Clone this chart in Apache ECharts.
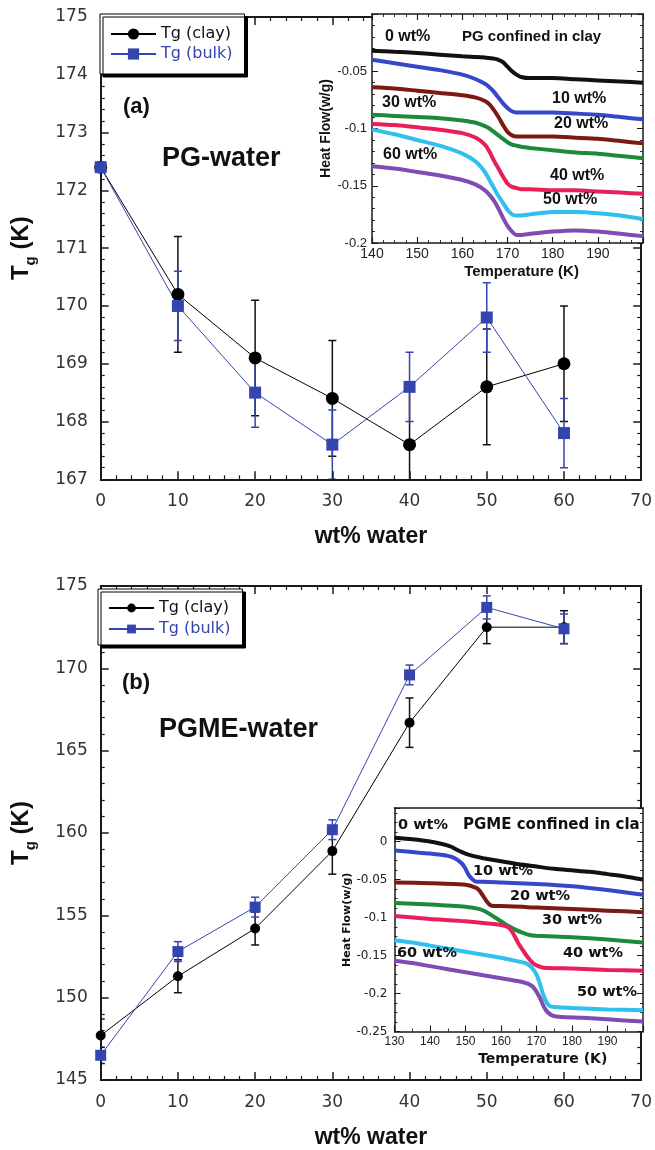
<!DOCTYPE html>
<html>
<head>
<meta charset="utf-8">
<script src="https://cdn.jsdelivr.net/npm/echarts@6/dist/echarts.min.js"></script>
<style>
  html, body { margin: 0; padding: 0; background: #fff; }
  #chart { width: 655px; height: 1150px; }
</style>
</head>
<body>
<div id="chart"></div>
<script>
// wt% water, shared by both panels
var waterPct = [0, 10, 20, 30, 40, 50, 60];

// (a) PG-water
var pgClay = [172.4, 170.2, 169.1, 168.4, 167.6, 168.6, 169.0];
var pgClayErr = [0, 1.0, 1.0, 1.0, 1.0, 1.0, 1.0];
var pgBulk = [172.4, 170.0, 168.5, 167.6, 168.6, 169.8, 167.8];
var pgBulkErr = [0, 0.6, 0.6, 0.6, 0.6, 0.6, 0.6];

// (b) PGME-water
var pgmeClay = [147.7, 151.3, 154.2, 158.9, 166.7, 172.5, 172.5];
var pgmeClayErr = [1.0, 1.0, 1.0, 1.4, 1.5, 1.0, 1.0];
var pgmeBulk = [146.5, 152.8, 155.5, 160.2, 169.6, 173.7, 172.4];
var pgmeBulkErr = [0.5, 0.6, 0.6, 0.6, 0.6, 0.7, 0.9];

// inset (a): DSC heat flow, PG confined in clay
var pgDscTemp = [140, 145, 150, 155, 160, 163, 165, 166, 167, 168, 169, 170, 171, 172, 173, 175, 180, 185, 190, 195, 200];
var pgDsc0 = [-0.032, -0.033, -0.034, -0.0355, -0.037, -0.0375, -0.038, -0.0385, -0.039, -0.040, -0.042, -0.046, -0.050, -0.053, -0.055, -0.056, -0.056, -0.057, -0.058, -0.059, -0.060];
var pgDsc10 = [-0.040, -0.043, -0.046, -0.049, -0.053, -0.057, -0.061, -0.064, -0.068, -0.073, -0.078, -0.082, -0.085, -0.086, -0.086, -0.086, -0.086, -0.087, -0.088, -0.090, -0.092];
var pgDsc20 = [-0.064, -0.065, -0.067, -0.069, -0.071, -0.073, -0.076, -0.079, -0.084, -0.090, -0.097, -0.103, -0.106, -0.107, -0.107, -0.107, -0.107, -0.108, -0.109, -0.111, -0.113];
var pgDsc30 = [-0.088, -0.089, -0.090, -0.091, -0.093, -0.095, -0.098, -0.100, -0.103, -0.106, -0.109, -0.112, -0.114, -0.115, -0.116, -0.117, -0.119, -0.121, -0.122, -0.124, -0.126];
var pgDsc40 = [-0.096, -0.097, -0.099, -0.101, -0.104, -0.108, -0.114, -0.120, -0.128, -0.135, -0.142, -0.148, -0.151, -0.152, -0.153, -0.153, -0.154, -0.154, -0.155, -0.156, -0.157];
var pgDsc50 = [-0.101, -0.105, -0.110, -0.115, -0.122, -0.129, -0.138, -0.145, -0.152, -0.159, -0.165, -0.171, -0.175, -0.176, -0.176, -0.175, -0.173, -0.173, -0.174, -0.176, -0.179];
var pgDsc60 = [-0.133, -0.135, -0.138, -0.141, -0.145, -0.149, -0.154, -0.158, -0.163, -0.170, -0.178, -0.185, -0.190, -0.193, -0.193, -0.192, -0.190, -0.189, -0.190, -0.192, -0.194];

// inset (b): DSC heat flow, PGME confined in clay, [temperature, heat flow]
var pgmeDsc0 = [[130, 0.005], [135, 0.003], [140, 0.000], [144, -0.004], [146, -0.007], [148, -0.012], [150, -0.016], [152, -0.019], [155, -0.022], [160, -0.026], [165, -0.030], [170, -0.033], [175, -0.036], [180, -0.038], [185, -0.040], [190, -0.043], [195, -0.046], [200, -0.050]];
var pgmeDsc10 = [[130, -0.012], [135, -0.014], [140, -0.016], [145, -0.019], [147, -0.022], [149, -0.029], [150, -0.036], [151, -0.045], [152, -0.050], [153, -0.053], [155, -0.053], [160, -0.054], [170, -0.056], [180, -0.059], [190, -0.064], [200, -0.070]];
var pgmeDsc20 = [[130, -0.054], [140, -0.055], [150, -0.057], [153, -0.061], [154, -0.065], [155, -0.072], [156, -0.079], [157, -0.084], [158, -0.085], [160, -0.085], [170, -0.087], [180, -0.089], [190, -0.091], [200, -0.093]];
var pgmeDsc30 = [[130, -0.081], [140, -0.083], [150, -0.086], [154, -0.089], [156, -0.093], [158, -0.099], [160, -0.105], [162, -0.111], [164, -0.116], [166, -0.120], [168, -0.123], [170, -0.124], [180, -0.126], [190, -0.129], [200, -0.133]];
var pgmeDsc40 = [[130, -0.098], [140, -0.102], [150, -0.105], [160, -0.110], [162, -0.113], [163, -0.118], [164, -0.126], [165, -0.135], [166, -0.142], [167, -0.149], [168, -0.155], [169, -0.160], [170, -0.163], [172, -0.166], [180, -0.167], [190, -0.169], [200, -0.170]];
var pgmeDsc50 = [[130, -0.130], [135, -0.133], [140, -0.137], [145, -0.141], [150, -0.145], [155, -0.149], [160, -0.153], [165, -0.158], [167, -0.160], [168.5, -0.165], [170, -0.175], [171, -0.188], [172, -0.203], [173, -0.213], [174, -0.217], [176, -0.218], [180, -0.219], [190, -0.221], [200, -0.222]];
var pgmeDsc60 = [[130, -0.157], [135, -0.160], [140, -0.164], [145, -0.168], [150, -0.172], [155, -0.176], [160, -0.180], [165, -0.184], [168, -0.188], [169.5, -0.194], [171, -0.206], [172, -0.217], [173, -0.224], [174.5, -0.229], [177, -0.231], [183, -0.232], [190, -0.234], [200, -0.237]];

var BLUE = '#3445b0';
var dscColors = ['#111111', '#3548c8', '#7a1a12', '#1d8a3a', '#e8205a', '#30c0ee', '#7e4cb4'];
var SANS = 'DejaVu Sans';
var HELV = 'Liberation Sans';

var chart = echarts.init(document.getElementById('chart'), null, { renderer: 'canvas' });

function pairs(xs, ys) {
  return xs.map(function (x, i) { return [x, ys[i]]; });
}

// frame axes: one with labels, one mirrored with ticks only
function frameAxis(gridIndex, pos, cfg, labelled) {
  var a = {
    type: 'value',
    gridIndex: gridIndex,
    position: pos,
    min: cfg.min,
    max: cfg.max,
    interval: cfg.interval,
    z: cfg.z || 3,
    axisLine: { show: true, onZero: false, lineStyle: { color: '#1a1a1a', width: cfg.lineWidth } },
    axisTick: { show: true, inside: true, length: cfg.tick, lineStyle: { color: '#1a1a1a', width: cfg.lineWidth * 0.75 } },
    minorTick: { show: true, splitNumber: cfg.minor, length: cfg.tick / 2, lineStyle: { color: '#1a1a1a', width: cfg.lineWidth * 0.6 } },
    splitLine: { show: false },
    axisLabel: { show: false }
  };
  if (cfg.noTicks) {
    a.axisTick.show = false;
    a.minorTick.show = false;
  }
  if (labelled) {
    a.axisLabel = {
      show: true,
      margin: cfg.margin,
      color: cfg.labelColor || '#333',
      fontFamily: cfg.font || SANS,
      fontSize: cfg.fontSize,
      formatter: cfg.formatter
    };
    if (cfg.name) {
      a.name = cfg.name;
      a.nameLocation = 'middle';
      a.nameGap = cfg.nameGap;
      a.nameTextStyle = cfg.nameStyle;
    }
  }
  return a;
}

function dscFormat(step) {
  return function (v) {
    var k = Math.round(v / step);
    if (Math.abs(v - k * step) > 1e-6) return '';
    if (k === 0) return '0';
    return String(parseFloat((k * step).toFixed(2)));
  };
}

var tgName = '{t|T}{s|g}{t| (K)}';
var tgStyle = {
  fontFamily: HELV, fontWeight: 'bold', color: '#111',
  rich: {
    t: { fontFamily: HELV, fontWeight: 'bold', fontSize: 24, lineHeight: 34, color: '#111' },
    s: { fontFamily: HELV, fontWeight: 'bold', fontSize: 15, lineHeight: 14, verticalAlign: 'bottom', color: '#111' }
  }
};
var wtStyle = { fontFamily: HELV, fontWeight: 'bold', fontSize: 23, color: '#111' };

var mainX = { min: 0, max: 70, interval: 10, minor: 5, tick: 8, lineWidth: 2, margin: 14, fontSize: 17, name: 'wt% water', nameGap: 46, nameStyle: wtStyle };
var topY = { min: 167, max: 175, interval: 1, minor: 5, tick: 8, lineWidth: 2, margin: 13, fontSize: 17, name: tgName, nameGap: 62, nameStyle: tgStyle };
var botY = { min: 145, max: 175, interval: 5, minor: 5, tick: 8, lineWidth: 2, margin: 13, fontSize: 17, name: tgName, nameGap: 62, nameStyle: tgStyle };

var inATempStyle = { fontFamily: HELV, fontWeight: 'bold', fontSize: 15, color: '#111', padding: [0, 0, 0, 28] };
var inAHeatStyle = { fontFamily: HELV, fontWeight: 'bold', fontSize: 14, color: '#111' };
var insetAX = { min: 140, max: 200, interval: 10, minor: 4, tick: 6, lineWidth: 1.5, margin: 4, fontSize: 14, font: HELV, labelColor: '#222', z: 6,
  formatter: function (v) { return v >= 200 ? '' : String(v); },
  name: 'Temperature (K)', nameGap: 21, nameStyle: inATempStyle };
var insetAY = { min: -0.2, max: 0, interval: 0.05, minor: 5, tick: 6, lineWidth: 1.5, margin: 5, fontSize: 13, font: HELV, labelColor: '#222', z: 6,
  formatter: function (v) { return Math.abs(v) < 1e-9 ? '' : dscFormat(0.05)(v); },
  name: 'Heat Flow(w/g)', nameGap: 38, nameStyle: inAHeatStyle };

var inBTempStyle = { fontFamily: SANS, fontWeight: 'bold', fontSize: 14, color: '#111', padding: [0, 0, 0, 48] };
var inBHeatStyle = { fontFamily: SANS, fontWeight: 'bold', fontSize: 11, color: '#111' };
var insetBX = { min: 130, max: 200, interval: 10, minor: 2, tick: 6, lineWidth: 1.5, margin: 4, fontSize: 12, font: HELV, labelColor: '#222', z: 6,
  formatter: function (v) { return v >= 200 ? '' : String(v); },
  name: 'Temperature (K)', nameGap: 21, nameStyle: inBTempStyle };
var insetBY = { min: -0.25, max: 0.044, interval: 0.05, minor: 4, tick: 6, lineWidth: 1.5, margin: 7, fontSize: 12, font: SANS, labelColor: '#222', z: 6,
  formatter: dscFormat(0.05),
  name: 'Heat Flow(w/g)', nameGap: 40, nameStyle: inBHeatStyle };
var insetBTop = Object.assign({}, insetBX, { noTicks: true });

function errorBars(xi, yi, vals, errs, color, capW) {
  var data = [];
  waterPct.forEach(function (w, i) {
    if (errs[i] > 0) data.push([w, vals[i] - errs[i], vals[i] + errs[i]]);
  });
  return {
    type: 'custom',
    xAxisIndex: xi,
    yAxisIndex: yi,
    clip: true,
    silent: true,
    z: 3,
    data: data,
    encode: { x: 0, y: [1, 2] },
    renderItem: function (params, api) {
      var lo = api.coord([api.value(0), api.value(1)]);
      var hi = api.coord([api.value(0), api.value(2)]);
      var st = { stroke: color, lineWidth: 1.5 };
      return {
        type: 'group',
        children: [
          { type: 'line', shape: { x1: lo[0], y1: lo[1], x2: hi[0], y2: hi[1] }, style: st },
          { type: 'line', shape: { x1: lo[0] - capW, y1: lo[1], x2: lo[0] + capW, y2: lo[1] }, style: st },
          { type: 'line', shape: { x1: hi[0] - capW, y1: hi[1], x2: hi[0] + capW, y2: hi[1] }, style: st }
        ]
      };
    }
  };
}

function tgLine(name, xi, yi, vals, color, symbol, size) {
  return {
    type: 'line',
    name: name,
    xAxisIndex: xi,
    yAxisIndex: yi,
    data: pairs(waterPct, vals),
    symbol: symbol,
    symbolSize: size,
    itemStyle: { color: color },
    lineStyle: { color: color, width: 1 },
    z: 4
  };
}

function dscLine(xi, yi, data, color) {
  return {
    type: 'line',
    xAxisIndex: xi,
    yAxisIndex: yi,
    data: data,
    symbol: 'none',
    smooth: 0.2,
    silent: true,
    lineStyle: { color: color, width: 4 },
    z: 8
  };
}

var pgDscSets = [pgDsc0, pgDsc10, pgDsc20, pgDsc30, pgDsc40, pgDsc50, pgDsc60];
var pgmeDscSets = [pgmeDsc0, pgmeDsc10, pgmeDsc20, pgmeDsc30, pgmeDsc40, pgmeDsc50, pgmeDsc60];

var series = [];
series.push(errorBars(0, 0, pgClay, pgClayErr, '#111', 4));
series.push(errorBars(0, 0, pgBulk, pgBulkErr, BLUE, 4));
series.push(tgLine('Tg (clay)', 0, 0, pgClay, '#000', 'circle', 13));
series.push(tgLine('Tg (bulk)', 0, 0, pgBulk, BLUE, 'rect', 12));
series.push(errorBars(4, 4, pgmeClay, pgmeClayErr, '#111', 4));
series.push(errorBars(4, 4, pgmeBulk, pgmeBulkErr, BLUE, 4));
series.push(tgLine('Tg (clay)', 4, 4, pgmeClay, '#000', 'circle', 10));
series.push(tgLine('Tg (bulk)', 4, 4, pgmeBulk, BLUE, 'rect', 11));
pgDscSets.forEach(function (vals, i) {
  series.push(dscLine(2, 2, pairs(pgDscTemp, vals), dscColors[i]));
});
pgmeDscSets.forEach(function (d, i) {
  series.push(dscLine(6, 6, d, dscColors[i]));
});

function legendBox(left, top, itemH, gap, pad) {
  return {
    left: left,
    top: top,
    orient: 'vertical',
    selectedMode: false,
    itemWidth: 45,
    itemHeight: itemH,
    itemGap: gap,
    padding: pad,
    backgroundColor: '#fff',
    borderColor: '#000',
    borderWidth: 1,
    shadowColor: '#000',
    shadowBlur: 0,
    shadowOffsetX: 3,
    shadowOffsetY: 3,
    z: 9,
    textStyle: { fontFamily: SANS, fontSize: 16 },
    data: [
      { name: 'Tg (clay)', textStyle: { color: '#111' } },
      { name: 'Tg (bulk)', textStyle: { color: BLUE } }
    ]
  };
}

function label(text, x, y, font, size, weight) {
  return {
    type: 'text',
    x: x,
    y: y,
    z: 20,
    silent: true,
    style: { text: text, fontFamily: font, fontSize: size, fontWeight: weight || 'bold', fill: '#111', align: 'left', verticalAlign: 'middle' }
  };
}

var option = {
  animation: false,
  backgroundColor: '#ffffff',
  grid: [
    { left: 100.7, top: 17, width: 542.6, height: 462.3 },
    { left: 372, top: 14, width: 271, height: 229, show: true, backgroundColor: '#fff', borderWidth: 0, z: 5 },
    { left: 100.7, top: 586, width: 542.6, height: 494 },
    { left: 394.5, top: 808, width: 248.5, height: 223.5, show: true, backgroundColor: '#fff', borderWidth: 0, z: 5 }
  ],
  xAxis: [
    frameAxis(0, 'bottom', mainX, true),
    frameAxis(0, 'top', mainX, false),
    frameAxis(1, 'bottom', insetAX, true),
    frameAxis(1, 'top', insetAX, false),
    frameAxis(2, 'bottom', mainX, true),
    frameAxis(2, 'top', mainX, false),
    frameAxis(3, 'bottom', insetBX, true),
    frameAxis(3, 'top', insetBTop, false)
  ],
  yAxis: [
    frameAxis(0, 'left', topY, true),
    frameAxis(0, 'right', topY, false),
    frameAxis(1, 'left', insetAY, true),
    frameAxis(1, 'right', insetAY, false),
    frameAxis(2, 'left', botY, true),
    frameAxis(2, 'right', botY, false),
    frameAxis(3, 'left', insetBY, true),
    frameAxis(3, 'right', insetBY, false)
  ],
  legend: [
    legendBox(100, 14, 14, 4, [12, 12, 12, 10]),
    legendBox(98, 589, 11, 5, [11, 12, 8, 10])
  ],
  series: series,
  graphic: [
    label('(a)', 123, 107, HELV, 22),
    label('PG-water', 162, 159, HELV, 27),
    label('(b)', 122, 683, HELV, 22),
    label('PGME-water', 159, 730, HELV, 27),

    label('0 wt%', 385, 37, HELV, 16),
    label('PG confined in clay', 462, 37, HELV, 15),
    label('10 wt%', 552, 99, HELV, 16),
    label('20 wt%', 554, 124, HELV, 16),
    label('30 wt%', 382, 103, HELV, 16),
    label('40 wt%', 550, 176, HELV, 16),
    label('50 wt%', 543, 200, HELV, 16),
    label('60 wt%', 383, 155, HELV, 16),

    label('0 wt%', 398, 825, SANS, 14.5),
    label('PGME confined in cla', 463, 825, SANS, 15),
    label('10 wt%', 473, 871, SANS, 14.5),
    label('20 wt%', 510, 896, SANS, 14.5),
    label('30 wt%', 542, 920, SANS, 14.5),
    label('40 wt%', 563, 953, SANS, 14.5),
    label('50 wt%', 577, 992, SANS, 14.5),
    label('60 wt%', 397, 953, SANS, 14.5)
  ]
};

chart.setOption(option);
</script>
</body>
</html>
